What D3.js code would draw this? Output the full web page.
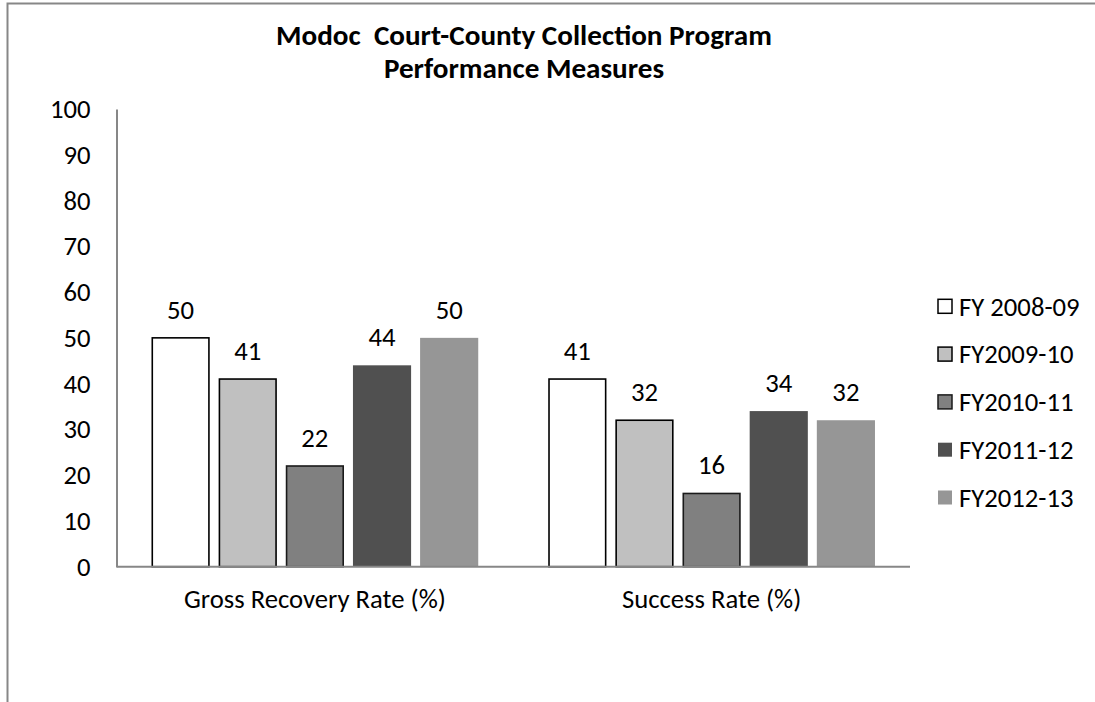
<!DOCTYPE html>
<html><head><meta charset="utf-8">
<script src="https://cdn.jsdelivr.net/npm/d3@7"></script>
<style>body{margin:0;background:#fff} svg{display:block}</style>
</head><body><svg id="c" width="1095" height="702"></svg>
<script>
// ---- data ----
const categories = ["Gross Recovery Rate (%)", "Success Rate (%)"];
const seriesNames = ["FY 2008-09", "FY2009-10", "FY2010-11", "FY2011-12", "FY2012-13"];
const fy200809 = [50, 41];
const fy200910 = [41, 32];
const fy201011 = [22, 16];
const fy201112 = [44, 34];
const fy201213 = [50, 32];
const yTickValues = [0, 10, 20, 30, 40, 50, 60, 70, 80, 90, 100];
const titleLines = ["Modoc  Court-County Collection Program", "Performance Measures"];

// ---- styles ----
const seriesValues = [fy200809, fy200910, fy201011, fy201112, fy201213];
const fills = ["#ffffff", "#c0c0c0", "#808080", "#505050", "#969696"];
const strokes = ["#000", "#000", "#1a1a1a", "none", "none"];
const FONT = "Carlito, Lato, 'Open Sans', sans-serif";

const svg = d3.select("#c");

function fitSize(text, weight, target) {
  const t = svg.append("text").attr("font-family", FONT).attr("font-weight", weight)
    .attr("font-size", 100).style("white-space", "pre").text(text);
  const w = t.node().getComputedTextLength();
  t.remove();
  return 100 * target / w;
}
const bodySize = fitSize(categories[0], "normal", 262);
const titleSize = fitSize(titleLines[0], "bold", 496);

// chart border (continues past the picture)
svg.append("path").attr("d", "M7.5,702 V3.5 H1095")
  .attr("fill", "none").attr("stroke", "#878787").attr("stroke-width", 2);

// scales
const x0 = d3.scaleBand().domain(categories).range([116.5, 910])
  .paddingInner(0.1765).paddingOuter(0.0883);
const x1 = d3.scaleBand().domain(d3.range(seriesNames.length)).range([0, x0.bandwidth()])
  .paddingInner(0.134).paddingOuter(0);
const y = d3.scaleLinear().domain([0, 100]).range([566.7, 109]);

// title
svg.append("text").attr("x", 524).attr("font-family", FONT).attr("font-weight", "bold")
  .attr("font-size", titleSize).attr("text-anchor", "middle").style("white-space", "pre")
  .selectAll("tspan").data(titleLines).join("tspan")
  .attr("x", 524).attr("y", (d, i) => 44.5 + i * 33).text(d => d);

// y axis
const yAxis = svg.append("g").attr("transform", "translate(116.5,0)")
  .call(d3.axisLeft(y).tickValues(yTickValues).tickSize(0).tickPadding(26).tickFormat(d3.format("d")));
yAxis.select(".domain").attr("stroke", "#878787").attr("stroke-width", 2);
yAxis.selectAll("text").attr("font-family", FONT).attr("font-size", bodySize).attr("fill", "#000");

// x axis
const xAxis = svg.append("g").attr("transform", `translate(0,${y(0)})`)
  .call(d3.axisBottom(x0).tickSize(0).tickPadding(0));
xAxis.select(".domain").remove();
xAxis.selectAll("text").attr("font-family", FONT).attr("font-size", bodySize).attr("fill", "#000")
  .attr("dy", 0).attr("y", 41.5);

// bars
const groups = svg.append("g").selectAll("g").data(categories).join("g")
  .attr("transform", d => `translate(${x0(d)},0)`);
groups.each(function (cat, ci) {
  const g = d3.select(this);
  seriesValues.forEach((vals, si) => {
    const v = vals[ci];
    g.append("rect")
      .attr("x", x1(si) + (strokes[si] === "none" ? 0 : 0.75))
      .attr("width", x1.bandwidth() - (strokes[si] === "none" ? 0 : 1.5))
      .attr("y", y(v)).attr("height", y(0) - y(v))
      .attr("fill", fills[si]).attr("stroke", strokes[si]).attr("stroke-width", 1.6);
    g.append("text").attr("x", x1(si) + x1.bandwidth() / 2).attr("y", y(v) - 19)
      .attr("text-anchor", "middle").attr("font-family", FONT).attr("font-size", bodySize)
      .text(v);
  });
});

// x axis line on top of bars
svg.append("line").attr("x1", 116.5).attr("x2", 910).attr("y1", y(0)).attr("y2", y(0))
  .attr("stroke", "#878787").attr("stroke-width", 2);

// legend
const legend = svg.append("g").selectAll("g").data(seriesNames).join("g")
  .attr("transform", (d, i) => `translate(938,${306.3 + i * 47.8})`);
legend.append("rect").attr("x", 0).attr("y", -7).attr("width", 14).attr("height", 14)
  .attr("fill", (d, i) => fills[i]).attr("stroke", (d, i) => strokes[i]).attr("stroke-width", 1.5);
legend.append("text").attr("x", 21).attr("y", 0).attr("dy", "0.35em")
  .attr("font-family", FONT).attr("font-size", bodySize).text(d => d);
</script>
</body></html>
